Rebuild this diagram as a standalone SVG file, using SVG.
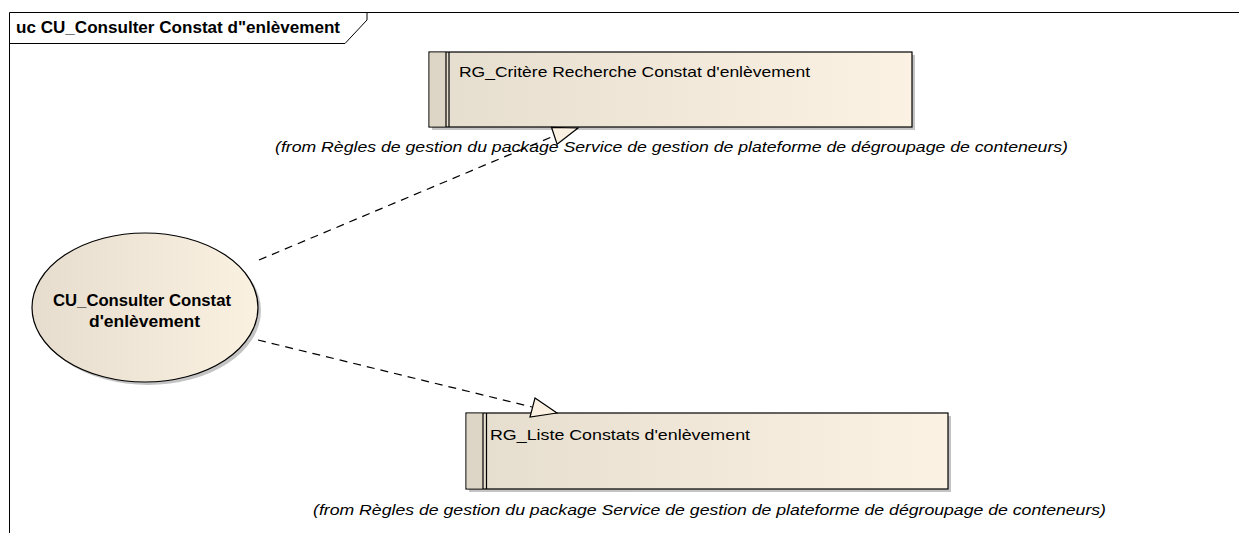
<svg xmlns="http://www.w3.org/2000/svg" width="1239" height="533" viewBox="0 0 1239 533">
<style>
.frame{fill:none;stroke:#000;stroke-width:1}
.title{font-family:"Liberation Sans",Arial,sans-serif;font-weight:bold;font-size:16px;fill:#000}
.box{stroke:#000;stroke-width:1.2;fill:url(#gBox)}
.band{fill:#ddd5c6;stroke:none}
.shadow{fill:#c4c4c4}
.lbl{font-family:"Liberation Sans",Arial,sans-serif;font-size:15px;fill:#000}
.uc{font-family:"Liberation Sans",Arial,sans-serif;font-weight:bold;font-size:16px;fill:#000}
.from{font-family:"Liberation Sans",Arial,sans-serif;font-style:italic;font-size:14.5px;fill:#000}
.dep{fill:none;stroke:#000;stroke-width:1.2;stroke-dasharray:8 6}
.head{fill:#fbf1e2;stroke:#000;stroke-width:1.2;stroke-linejoin:miter}
</style>
<defs>
<linearGradient id="gBox" x1="0" y1="0" x2="1" y2="0">
<stop offset="0" stop-color="#e5ddce"/>
<stop offset="1" stop-color="#fcf2e3"/>
</linearGradient>
<linearGradient id="gUc" x1="0" y1="0" x2="1" y2="0">
<stop offset="0" stop-color="#e6ddce"/>
<stop offset="1" stop-color="#fbf1e1"/>
</linearGradient>
</defs>
<rect x="0" y="0" width="1239" height="533" fill="#fff"/>
<g id="frame">
<path class="frame" d="M9.5 533 V12.5 H1239"/>
<path class="frame" d="M9.5 43.5 H345 L367 20 V12.5"/>
<text class="title" x="16" y="33" textLength="324" lengthAdjust="spacingAndGlyphs">uc CU_Consulter Constat d"enlèvement</text>
</g>
<g id="rg_critere">
<rect class="shadow" x="432" y="55" width="483" height="75"/>
<rect class="box" x="429" y="52" width="483" height="75"/>
<rect class="band" x="429.6" y="52.6" width="16.4" height="73.8"/>
<line x1="446" y1="52" x2="446" y2="127" stroke="#000" stroke-width="1.2"/>
<line x1="449" y1="52" x2="449" y2="127" stroke="#000" stroke-width="1.2"/>
<text class="lbl" x="459" y="77" textLength="351" lengthAdjust="spacingAndGlyphs">RG_Critère Recherche Constat d'enlèvement</text>
<text class="from" x="275" y="152" textLength="793" lengthAdjust="spacingAndGlyphs">(from Règles de gestion du package Service de gestion de plateforme de dégroupage de conteneurs)</text>
</g>
<g id="rg_liste">
<rect class="shadow" x="469" y="416" width="482" height="76"/>
<rect class="box" x="466" y="413" width="482" height="76"/>
<rect class="band" x="466.6" y="413.6" width="16.4" height="74.8"/>
<line x1="483" y1="413" x2="483" y2="489" stroke="#000" stroke-width="1.2"/>
<line x1="486.5" y1="413" x2="486.5" y2="489" stroke="#000" stroke-width="1.2"/>
<text class="lbl" x="490" y="440" textLength="260" lengthAdjust="spacingAndGlyphs">RG_Liste Constats d'enlèvement</text>
<text class="from" x="313" y="515" textLength="793" lengthAdjust="spacingAndGlyphs">(from Règles de gestion du package Service de gestion de plateforme de dégroupage de conteneurs)</text>
</g>
<g id="cu_consulter">
<ellipse class="shadow" cx="148" cy="310.5" rx="113" ry="74.5"/>
<ellipse cx="145" cy="307.5" rx="113" ry="74.5" fill="url(#gUc)" stroke="#000" stroke-width="1.2"/>
<text class="uc" x="53" y="306" textLength="178" lengthAdjust="spacingAndGlyphs">CU_Consulter Constat</text>
<text class="uc" x="89" y="327" textLength="111" lengthAdjust="spacingAndGlyphs">d'enlèvement</text>
</g>
<g id="connectors">
<line class="dep" x1="259" y1="260" x2="554" y2="136"/>
<polygon class="head" points="578,128 551.5,127.3 557.1,144.3"/>
<line class="dep" x1="258" y1="340" x2="532" y2="407"/>
<polygon class="head" points="557,413 535,398 530,417"/>
</g>
</svg>
